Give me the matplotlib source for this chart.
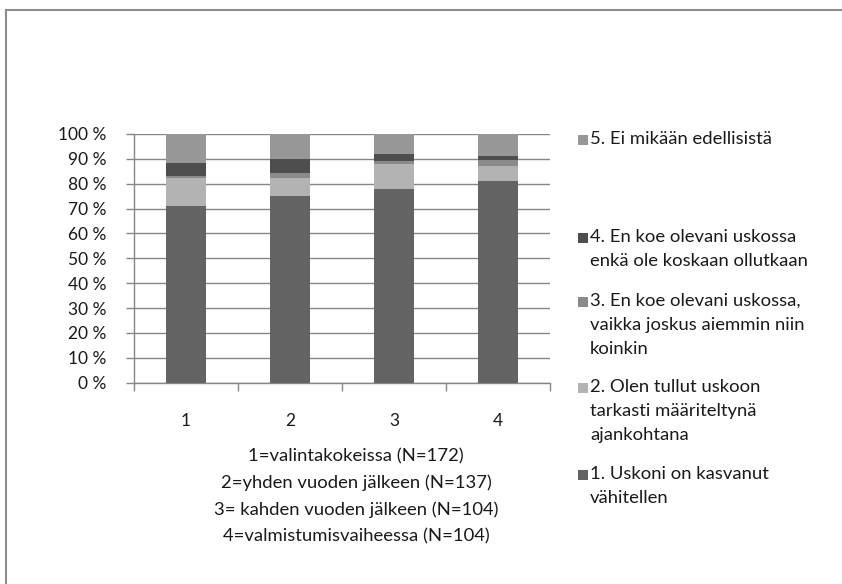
import matplotlib
matplotlib.use("Agg")
import matplotlib.pyplot as plt
from matplotlib.patches import Rectangle
from matplotlib.lines import Line2D
import numpy as np

# Data (share of respondents, %)
categories = ["1", "2", "3", "4"]
series_names = [
    "1. Uskoni on kasvanut\nvähitellen",
    "2. Olen tullut uskoon\ntarkasti määriteltynä\najankohtana",
    "3. En koe olevani uskossa,\nvaikka joskus aiemmin niin\nkoinkin",
    "4. En koe olevani uskossa\nenkä ole koskaan ollutkaan",
    "5. Ei mikään edellisistä",
]
s1 = [71.0, 75.0, 78.0, 81.0]
s2 = [11.2, 7.2, 10.1, 6.3]
s3 = [1.0, 2.0, 1.0, 2.2]
s4 = [5.0, 5.9, 3.0, 1.8]
s5 = [11.8, 9.9, 7.9, 8.7]
yticks = [0, 10, 20, 30, 40, 50, 60, 70, 80, 90, 100]
xlabel = ("1=valintakokeissa (N=172)\n2=yhden vuoden jälkeen (N=137)\n"
          "3= kahden vuoden jälkeen (N=104)\n4=valmistumisvaiheessa (N=104)")

colors = ["#636363", "#b3b3b3", "#8a8a8a", "#4e4e4e", "#979797"]
grid_col = "#868686"
text_col = "#1a1a1a"
FONT = "Lato"
FS_TICK = 12.5
FS = 13.3

plt.rcParams["font.family"] = [FONT, "DejaVu Sans"]

fig = plt.figure(figsize=(8.42, 5.84), dpi=100)
W, H = 842, 584
ax = fig.add_axes([134 / W, 1 - 382.7 / H, 416 / W, 248.7 / H])

x = np.arange(len(categories))
bottom = np.zeros(len(categories))
for vals, col in zip([s1, s2, s3, s4, s5], colors):
    ax.bar(x, vals, width=0.39, bottom=bottom, color=col, edgecolor="none", zorder=3)
    bottom += np.array(vals)

ax.set_xlim(-0.5, len(categories) - 0.5)
ax.set_ylim(0, 100)
ax.set_yticks(yticks)
ax.set_yticklabels([f"{t} %" for t in yticks], fontsize=FS_TICK, color=text_col)
ax.set_xticks(x)
ax.set_xticklabels(categories, fontsize=FS_TICK, color=text_col)
ax.set_xticks(np.arange(-0.5, len(categories), 1.0), minor=True)
ax.tick_params(axis="x", which="major", length=0, pad=22)
ax.tick_params(axis="x", which="minor", length=6, width=1, color=grid_col, direction="out")
ax.tick_params(axis="y", length=6, width=1, color=grid_col, pad=14)
ax.yaxis.grid(True, color=grid_col, linewidth=1.0, zorder=0)
ax.set_axisbelow(True)
for side in ["top", "right"]:
    ax.spines[side].set_visible(False)
for side in ["left", "bottom"]:
    ax.spines[side].set_color(grid_col)
    ax.spines[side].set_linewidth(1.0)

# category explanation under the axis
fig.text(356 / W, 1 - 448 / H, xlabel, ha="center", va="top", fontsize=FS,
         color=text_col, linespacing=1.78)

# legend entries placed as in the original (top to bottom: 5..1)
legend_y = [140, 238, 302, 388, 475]
for name, col, yy in zip(series_names[::-1], colors[::-1], legend_y):
    fig.add_artist(Rectangle((578 / W, 1 - (yy + 5) / H), 10 / W, 10 / H,
                             transform=fig.transFigure, facecolor=col, edgecolor="none"))
    fig.text(590 / W, 1 - (yy - 9) / H, name, ha="left", va="top", fontsize=FS,
             color=text_col, linespacing=1.62)

# chart area frame (top and left edges visible)
fig.add_artist(Line2D([6 / W, 1.0], [1 - 10 / H, 1 - 10 / H], transform=fig.transFigure,
                      color="#8c8c8c", linewidth=1.5))
fig.add_artist(Line2D([6 / W, 6 / W], [0.0, 1 - 10 / H], transform=fig.transFigure,
                      color="#8c8c8c", linewidth=1.5))

fig.savefig("out.png", dpi=100)
